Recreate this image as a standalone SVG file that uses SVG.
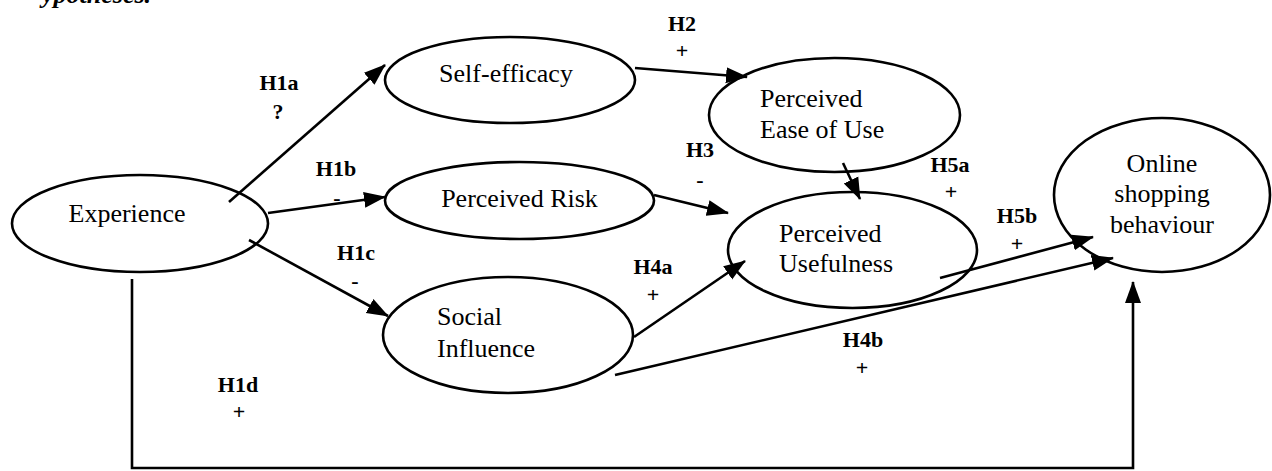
<svg xmlns="http://www.w3.org/2000/svg" width="1272" height="471" viewBox="0 0 1272 471">
<defs>
<style>
.node ellipse{fill:none;stroke:#000;stroke-width:2.6}
.nt{font-family:"Liberation Serif","Times New Roman",serif;font-size:26px;fill:#000}
.lb{font-family:"Liberation Serif","Times New Roman",serif;font-size:22px;font-weight:bold;fill:#000;text-anchor:middle}
.edge{fill:none;stroke:#000;stroke-width:2.6}
</style>
<marker id="ah" markerUnits="userSpaceOnUse" markerWidth="22" markerHeight="18" refX="21" refY="8" orient="auto" viewBox="0 0 22 16">
<path d="M0,0 L22,8 L0,16 z" fill="#000"/>
</marker>
</defs>
<rect width="1272" height="471" fill="#fff"/>
<text x="42" y="3" class="nt" style="font-style:italic;font-weight:bold">ypotheses.</text>

<g id="connectors">
<path class="edge" d="M229,202 L385,65" marker-end="url(#ah)"/>
<path class="edge" d="M268,213 L385,197" marker-end="url(#ah)"/>
<path class="edge" d="M249,240 L388,316" marker-end="url(#ah)"/>
<path class="edge" d="M635,68 L747,77" marker-end="url(#ah)"/>
<path class="edge" d="M654,195 L728,213" marker-end="url(#ah)"/>
<path class="edge" d="M843,163 L860,199" marker-end="url(#ah)"/>
<path class="edge" d="M634,337 L745,261" marker-end="url(#ah)"/>
<path class="edge" d="M940,278 L1093,237" marker-end="url(#ah)"/>
<path class="edge" d="M615,375 L1113,258" marker-end="url(#ah)"/>
<path class="edge" d="M132,279 L132,468 L1133,468 L1133,282" marker-end="url(#ah)"/>
</g>

<g id="labels">
<text class="lb" x="279" y="90">H1a</text>
<text class="lb" x="278" y="119">?</text>
<text class="lb" x="336" y="176">H1b</text>
<text class="lb" x="337" y="205">-</text>
<text class="lb" x="356" y="260">H1c</text>
<text class="lb" x="355" y="288">-</text>
<text class="lb" x="238" y="392">H1d</text>
<text class="lb" x="239" y="419">+</text>
<text class="lb" x="682" y="31">H2</text>
<text class="lb" x="682" y="58">+</text>
<text class="lb" x="700" y="157">H3</text>
<text class="lb" x="700" y="187">-</text>
<text class="lb" x="653" y="274">H4a</text>
<text class="lb" x="653" y="302">+</text>
<text class="lb" x="863" y="347">H4b</text>
<text class="lb" x="862" y="375">+</text>
<text class="lb" x="950" y="172">H5a</text>
<text class="lb" x="951" y="199">+</text>
<text class="lb" x="1017" y="223">H5b</text>
<text class="lb" x="1017" y="251">+</text>
</g>

<g id="experience" class="node">
<ellipse cx="140" cy="223.5" rx="128" ry="48.5"/>
<text class="nt" x="127" y="222" text-anchor="middle">Experience</text>
</g>
<g id="self-efficacy" class="node">
<ellipse cx="510" cy="80" rx="125" ry="43"/>
<text class="nt" x="506" y="82" text-anchor="middle">Self-efficacy</text>
</g>
<g id="perceived-risk" class="node">
<ellipse cx="519.5" cy="200.5" rx="134.5" ry="38.5"/>
<text class="nt" x="519.5" y="207" text-anchor="middle">Perceived Risk</text>
</g>
<g id="social-influence" class="node">
<ellipse cx="508" cy="335" rx="125" ry="58"/>
<text class="nt" x="437" y="325">Social</text>
<text class="nt" x="437" y="357">Influence</text>
</g>
<g id="perceived-ease-of-use" class="node">
<ellipse cx="834.5" cy="115" rx="125.5" ry="57"/>
<text class="nt" x="760" y="107">Perceived</text>
<text class="nt" x="760" y="138">Ease of Use</text>
</g>
<g id="perceived-usefulness" class="node">
<ellipse cx="852.5" cy="250" rx="124.5" ry="58"/>
<text class="nt" x="779" y="242">Perceived</text>
<text class="nt" x="779" y="272">Usefulness</text>
</g>
<g id="online-shopping-behaviour" class="node">
<ellipse cx="1162" cy="195" rx="108" ry="77"/>
<text class="nt" x="1162" y="172" text-anchor="middle">Online</text>
<text class="nt" x="1162" y="202" text-anchor="middle">shopping</text>
<text class="nt" x="1162" y="233" text-anchor="middle">behaviour</text>
</g>
</svg>
